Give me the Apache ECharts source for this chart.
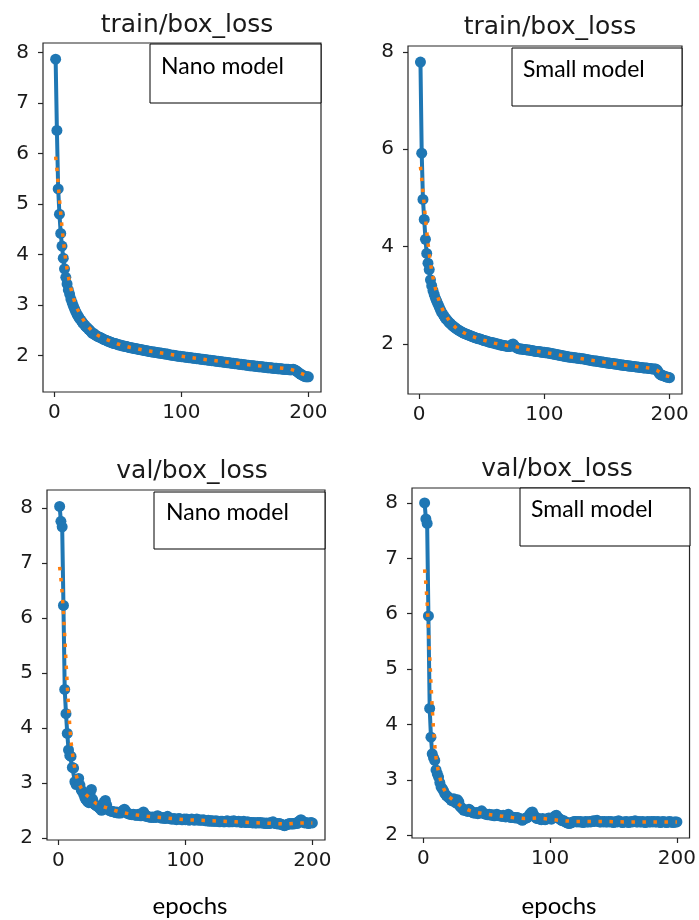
<!DOCTYPE html>
<html>
<head>
<meta charset="utf-8">
<script src="https://cdn.jsdelivr.net/npm/echarts@6/dist/echarts.min.js"></script>
<style>
  html, body { margin: 0; padding: 0; background: #fff; }
  #container { width: 699px; height: 920px; }
</style>
</head>
<body>
<div id="container"></div>
<script>
var dom = document.getElementById('container');
var myChart = echarts.init(dom, null, { renderer: 'canvas', useDirtyRect: false });

// panel titles and box labels
var panelTitles = ['train/box_loss', 'train/box_loss', 'val/box_loss', 'val/box_loss'];
var modelNames = ['Nano model', 'Small model', 'Nano model', 'Small model'];
var xTicks = [0, 100, 200];
var yTicksA = [2, 3, 4, 5, 6, 7, 8];
var yTicksB = [2, 4, 6, 8];

// results per epoch (1..200)
var trainNano = [
  7.87, 6.46, 5.30, 4.80, 4.42, 4.17, 3.93, 3.72, 3.55, 3.42,
  3.30, 3.22, 3.12, 3.05, 2.98, 2.92, 2.86, 2.81, 2.77, 2.73,
  2.70, 2.66, 2.63, 2.60, 2.57, 2.55, 2.52, 2.50, 2.47, 2.44,
  2.44, 2.41, 2.40, 2.38, 2.37, 2.36, 2.35, 2.33, 2.32, 2.31,
  2.30, 2.29, 2.28, 2.27, 2.26, 2.25, 2.24, 2.24, 2.23, 2.22,
  2.21, 2.21, 2.20, 2.19, 2.19, 2.18, 2.18, 2.17, 2.16, 2.16,
  2.15, 2.15, 2.14, 2.14, 2.13, 2.13, 2.12, 2.12, 2.11, 2.11,
  2.10, 2.10, 2.09, 2.09, 2.08, 2.08, 2.07, 2.07, 2.07, 2.06,
  2.06, 2.05, 2.05, 2.05, 2.04, 2.04, 2.03, 2.03, 2.03, 2.02,
  2.02, 2.01, 2.01, 2.01, 2.00, 2.00, 1.99, 1.99, 1.99, 1.98,
  1.98, 1.98, 1.97, 1.97, 1.97, 1.96, 1.96, 1.96, 1.95, 1.95,
  1.95, 1.94, 1.94, 1.94, 1.93, 1.93, 1.93, 1.92, 1.92, 1.92,
  1.91, 1.91, 1.91, 1.90, 1.90, 1.90, 1.89, 1.89, 1.89, 1.88,
  1.88, 1.88, 1.87, 1.87, 1.87, 1.86, 1.86, 1.86, 1.85, 1.85,
  1.85, 1.84, 1.84, 1.84, 1.83, 1.83, 1.83, 1.82, 1.82, 1.82,
  1.81, 1.81, 1.81, 1.80, 1.80, 1.80, 1.80, 1.79, 1.79, 1.79,
  1.78, 1.78, 1.78, 1.78, 1.77, 1.77, 1.77, 1.76, 1.76, 1.76,
  1.76, 1.75, 1.75, 1.75, 1.75, 1.74, 1.74, 1.74, 1.74, 1.73,
  1.73, 1.73, 1.73, 1.73, 1.72, 1.72, 1.72, 1.73, 1.72, 1.71,
  1.69, 1.67, 1.65, 1.63, 1.62, 1.60, 1.59, 1.58, 1.58, 1.58
];
var trainSmall = [
  7.79, 5.92, 4.97, 4.56, 4.15, 3.86, 3.66, 3.53, 3.32, 3.20,
  3.10, 3.02, 2.94, 2.88, 2.82, 2.76, 2.70, 2.65, 2.61, 2.57,
  2.53, 2.50, 2.47, 2.44, 2.42, 2.39, 2.37, 2.35, 2.33, 2.31,
  2.29, 2.28, 2.26, 2.25, 2.23, 2.22, 2.21, 2.20, 2.19, 2.18,
  2.17, 2.16, 2.15, 2.14, 2.13, 2.12, 2.11, 2.11, 2.10, 2.09,
  2.08, 2.07, 2.07, 2.06, 2.05, 2.04, 2.04, 2.03, 2.02, 2.02,
  2.01, 2.00, 2.00, 1.99, 1.98, 1.98, 1.97, 1.97, 1.96, 1.96,
  1.95, 1.95, 1.96, 1.99, 2.00, 1.97, 1.94, 1.92, 1.91, 1.90,
  1.90, 1.90, 1.89, 1.89, 1.89, 1.88, 1.88, 1.88, 1.87, 1.87,
  1.86, 1.86, 1.85, 1.85, 1.85, 1.84, 1.84, 1.83, 1.83, 1.83,
  1.82, 1.82, 1.82, 1.81, 1.81, 1.80, 1.80, 1.79, 1.79, 1.78,
  1.78, 1.77, 1.77, 1.76, 1.76, 1.75, 1.75, 1.74, 1.74, 1.73,
  1.73, 1.73, 1.72, 1.72, 1.72, 1.71, 1.71, 1.71, 1.70, 1.70,
  1.70, 1.69, 1.69, 1.68, 1.68, 1.67, 1.67, 1.66, 1.66, 1.65,
  1.65, 1.65, 1.64, 1.64, 1.63, 1.63, 1.63, 1.62, 1.62, 1.61,
  1.61, 1.61, 1.60, 1.60, 1.60, 1.59, 1.59, 1.59, 1.58, 1.58,
  1.57, 1.57, 1.57, 1.56, 1.56, 1.56, 1.55, 1.55, 1.55, 1.54,
  1.54, 1.54, 1.53, 1.53, 1.53, 1.52, 1.52, 1.52, 1.51, 1.51,
  1.51, 1.51, 1.50, 1.50, 1.50, 1.49, 1.49, 1.49, 1.49, 1.47,
  1.43, 1.39, 1.37, 1.36, 1.35, 1.34, 1.33, 1.32, 1.32, 1.31
];
var valNano = [
  8.03, 7.76, 7.66, 6.23, 4.70, 4.26, 3.90, 3.60, 3.50, 3.48,
  3.28, 3.27, 3.02, 2.97, 3.05, 3.08, 2.96, 2.87, 2.84, 2.79,
  2.72, 2.69, 2.66, 2.64, 2.80, 2.88, 2.70, 2.62, 2.60, 2.58,
  2.57, 2.55, 2.52, 2.50, 2.55, 2.65, 2.68, 2.60, 2.52, 2.50,
  2.49, 2.48, 2.48, 2.47, 2.46, 2.47, 2.45, 2.46, 2.45, 2.48,
  2.50, 2.52, 2.49, 2.45, 2.44, 2.43, 2.43, 2.42, 2.43, 2.42,
  2.41, 2.41, 2.43, 2.41, 2.40, 2.44, 2.47, 2.43, 2.39, 2.39,
  2.38, 2.38, 2.37, 2.38, 2.37, 2.38, 2.37, 2.40, 2.39, 2.37,
  2.36, 2.36, 2.37, 2.35, 2.36, 2.39, 2.36, 2.35, 2.34, 2.34,
  2.35, 2.34, 2.33, 2.34, 2.35, 2.34, 2.33, 2.33, 2.34, 2.33,
  2.34, 2.33, 2.32, 2.33, 2.34, 2.33, 2.32, 2.33, 2.34, 2.32,
  2.33, 2.32, 2.32, 2.33, 2.32, 2.31, 2.31, 2.32, 2.30, 2.31,
  2.31, 2.30, 2.30, 2.31, 2.30, 2.30, 2.29, 2.30, 2.30, 2.29,
  2.29, 2.30, 2.31, 2.29, 2.29, 2.30, 2.29, 2.31, 2.30, 2.29,
  2.29, 2.30, 2.29, 2.28, 2.29, 2.30, 2.28, 2.28, 2.29, 2.28,
  2.28, 2.28, 2.27, 2.28, 2.27, 2.27, 2.28, 2.27, 2.28, 2.27,
  2.27, 2.27, 2.26, 2.27, 2.26, 2.26, 2.28, 2.27, 2.29, 2.27,
  2.26, 2.26, 2.25, 2.26, 2.25, 2.24, 2.23, 2.22, 2.23, 2.24,
  2.25, 2.26, 2.25, 2.26, 2.25, 2.26, 2.27, 2.26, 2.29, 2.31,
  2.33, 2.31, 2.28, 2.27, 2.28, 2.27, 2.26, 2.27, 2.28, 2.27
];
var valSmall = [
  8.00, 7.71, 7.63, 5.96, 4.29, 3.77, 3.47, 3.40, 3.35, 3.18,
  3.11, 3.05, 2.95, 2.87, 2.84, 2.80, 2.75, 2.72, 2.70, 2.68,
  2.66, 2.63, 2.62, 2.66, 2.60, 2.58, 2.64, 2.60, 2.52, 2.50,
  2.47, 2.45, 2.46, 2.44, 2.43, 2.47, 2.45, 2.42, 2.41, 2.40,
  2.40, 2.41, 2.39, 2.40, 2.42, 2.44, 2.40, 2.39, 2.38, 2.38,
  2.37, 2.38, 2.37, 2.36, 2.37, 2.35, 2.36, 2.38, 2.36, 2.35,
  2.35, 2.34, 2.36, 2.34, 2.33, 2.35, 2.38, 2.34, 2.32, 2.33,
  2.32, 2.32, 2.31, 2.32, 2.31, 2.30, 2.29, 2.27, 2.29, 2.30,
  2.31, 2.32, 2.34, 2.38, 2.41, 2.42, 2.37, 2.33, 2.31, 2.30,
  2.30, 2.29, 2.28, 2.30, 2.29, 2.28, 2.29, 2.30, 2.31, 2.30,
  2.29, 2.31, 2.33, 2.35, 2.36, 2.32, 2.30, 2.29, 2.27, 2.26,
  2.26, 2.24, 2.23, 2.22, 2.21, 2.22, 2.23, 2.24, 2.25, 2.25,
  2.24, 2.25, 2.24, 2.25, 2.24, 2.23, 2.24, 2.25, 2.24, 2.24,
  2.25, 2.24, 2.25, 2.26, 2.25, 2.26, 2.27, 2.25, 2.24, 2.24,
  2.25, 2.24, 2.25, 2.24, 2.24, 2.25, 2.24, 2.25, 2.24, 2.23,
  2.24, 2.25, 2.24, 2.26, 2.25, 2.24, 2.23, 2.24, 2.24, 2.25,
  2.24, 2.23, 2.24, 2.25, 2.24, 2.25, 2.26, 2.24, 2.24, 2.25,
  2.24, 2.24, 2.25, 2.24, 2.23, 2.24, 2.25, 2.24, 2.24, 2.25,
  2.24, 2.25, 2.24, 2.24, 2.25, 2.24, 2.23, 2.24, 2.25, 2.24,
  2.24, 2.23, 2.24, 2.25, 2.24, 2.24, 2.23, 2.24, 2.24, 2.24
];

// smoothed curves [epoch, value]
var trainNanoSmooth = [[1,5.94],[2,5.70],[3,5.40],[4,5.10],[5,4.82],[6,4.55],[7,4.30],[8,4.08],[9,3.88],[10,3.71],
  [12,3.44],[14,3.23],[16,3.06],[18,2.93],[20,2.83],[25,2.62],[30,2.48],[35,2.39],[40,2.33],[50,2.23],
  [60,2.16],[70,2.11],[80,2.07],[90,2.03],[100,1.99],[120,1.92],[140,1.86],[160,1.80],[180,1.75],[186,1.73],
  [190,1.70],[194,1.65],[197,1.62],[200,1.60]];
var trainSmallSmooth = [[1,5.64],[2,5.40],[3,5.12],[4,4.85],[5,4.58],[6,4.32],[7,4.08],[8,3.86],[9,3.67],[10,3.50],
  [12,3.24],[14,3.04],[16,2.88],[18,2.75],[20,2.64],[25,2.44],[30,2.32],[35,2.24],[40,2.18],[50,2.09],
  [60,2.02],[70,1.97],[75,1.96],[80,1.93],[90,1.87],[100,1.83],[120,1.74],[140,1.66],[160,1.58],[180,1.52],
  [186,1.50],[190,1.46],[194,1.39],[197,1.35],[200,1.33]];
var valNanoSmooth = [[1,6.93],[2,6.72],[3,6.45],[4,6.10],[5,5.68],[6,5.22],[7,4.78],[8,4.38],[9,4.03],[10,3.74],
  [12,3.38],[14,3.14],[16,3.00],[18,2.90],[20,2.82],[25,2.72],[30,2.62],[35,2.57],[40,2.53],[50,2.46],
  [60,2.42],[70,2.39],[80,2.37],[90,2.35],[100,2.33],[120,2.31],[140,2.29],[160,2.27],[180,2.25],[190,2.27],[200,2.27]];
var valSmallSmooth = [[1,6.80],[2,6.55],[3,6.20],[4,5.75],[5,5.25],[6,4.75],[7,4.30],[8,3.92],[9,3.62],[10,3.40],
  [12,3.13],[14,2.96],[16,2.84],[18,2.76],[20,2.70],[25,2.61],[30,2.52],[35,2.46],[40,2.42],[50,2.38],
  [60,2.35],[70,2.32],[80,2.30],[90,2.31],[100,2.29],[110,2.26],[120,2.25],[140,2.25],[160,2.24],[180,2.24],[200,2.24]];

var results = [trainNano, trainSmall, valNano, valSmall];
var smooths = [trainNanoSmooth, trainSmallSmooth, valNanoSmooth, valSmallSmooth];

// layout of the four panels (pixels)
var panels = [
  { left: 43, top: 43, width: 278, height: 349, ymin: 1.28, ymax: 8.19, yt: yTicksA, titleX: 182, titleY: 8,
    box: [150, 44, 171, 59], textPos: [161, 67] },
  { left: 408, top: 46, width: 274, height: 348, ymin: 0.975, ymax: 8.12, yt: yTicksB, titleX: 545, titleY: 10,
    box: [512, 48, 170, 58], textPos: [523, 70] },
  { left: 47, top: 490, width: 278, height: 350, ymin: 1.96, ymax: 8.33, yt: yTicksA, titleX: 187, titleY: 454,
    box: [154, 492, 171, 57], textPos: [166, 513], xlab: 190 },
  { left: 412, top: 488, width: 278, height: 350, ymin: 1.95, ymax: 8.27, yt: yTicksA, titleX: 552, titleY: 452,
    box: [520, 488, 170, 58], textPos: [531, 510], xlab: 559 }
];

var tickFont = { fontFamily: 'DejaVu Sans', fontSize: 20, color: '#1a1a1a' };

var grids = [], xAxes = [], yAxes = [], series = [], titles = [], graphics = [];

panels.forEach(function (p, i) {
  grids.push({ left: p.left, top: p.top, width: p.width, height: p.height,
    show: true, borderColor: '#262626', borderWidth: 1.2, backgroundColor: 'transparent' });
  xAxes.push({
    type: 'value', gridIndex: i, min: -8.95, max: 209.95,
    splitLine: { show: false }, axisLine: { show: false, onZero: false },
    axisTick: { show: true, length: 5, customValues: xTicks, lineStyle: { color: '#262626', width: 1.2 } },
    axisLabel: Object.assign({ margin: 11, customValues: xTicks }, tickFont)
  });
  yAxes.push({
    type: 'value', gridIndex: i, min: p.ymin, max: p.ymax,
    splitLine: { show: false }, axisLine: { show: false, onZero: false },
    axisTick: { show: true, length: 5, customValues: p.yt, lineStyle: { color: '#262626', width: 1.2 } },
    axisLabel: Object.assign({ margin: 14, customValues: p.yt }, tickFont)
  });
  series.push({
    type: 'line', xAxisIndex: i, yAxisIndex: i,
    data: results[i].map(function (v, k) { return [k + 1, v]; }),
    symbol: 'circle', symbolSize: 11, showSymbol: true,
    itemStyle: { color: '#1f77b4' },
    lineStyle: { color: '#1f77b4', width: 4 },
    emphasis: { disabled: true }, z: 2
  });
  series.push({
    type: 'line', xAxisIndex: i, yAxisIndex: i,
    data: smooths[i], showSymbol: false,
    lineStyle: { color: '#ff7f0e', width: 3.5, type: [3.5, 7.5], cap: 'butt' },
    emphasis: { disabled: true }, z: 3
  });
  titles.push({
    text: panelTitles[i], left: p.titleX, top: p.titleY, textAlign: 'center',
    textStyle: { fontFamily: 'DejaVu Sans', fontSize: 25, fontWeight: 'normal', color: '#1a1a1a' }
  });
  graphics.push({
    type: 'rect', shape: { x: p.box[0], y: p.box[1], width: p.box[2], height: p.box[3] },
    style: { fill: '#fff', stroke: '#000', lineWidth: 1 }, z: 10
  });
  graphics.push({
    type: 'text', x: p.textPos[0], y: p.textPos[1], z: 11,
    style: { text: modelNames[i], font: '23px Lato', fill: '#000', textVerticalAlign: 'middle' }
  });
  if (p.xlab) {
    graphics.push({
      type: 'text', x: p.xlab, y: 906, z: 11,
      style: { text: 'epochs', font: '24px Lato', fill: '#000', textAlign: 'center', textVerticalAlign: 'middle' }
    });
  }
});

var option = {
  backgroundColor: '#fff',
  animation: false,
  title: titles,
  grid: grids,
  xAxis: xAxes,
  yAxis: yAxes,
  series: series,
  graphic: graphics
};

myChart.setOption(option);
</script>
</body>
</html>
